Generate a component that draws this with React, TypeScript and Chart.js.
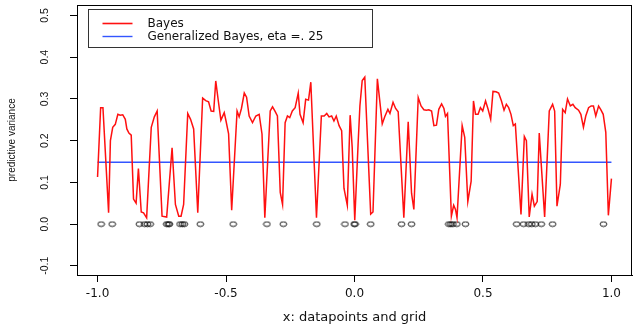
import React, { useEffect, useRef } from "react";
import { Chart, registerables } from "chart.js";

Chart.register(...registerables);

// Bayes predictive variance on the grid
const bayesX = [
  -1.0, -0.988, -0.979, -0.957, -0.950, -0.941, -0.931, -0.921, -0.912, -0.902,
  -0.892, -0.886, -0.878, -0.869, -0.860, -0.850, -0.841, -0.830, -0.821, -0.809,
  -0.791, -0.779, -0.768, -0.749, -0.731, -0.710, -0.697, -0.684, -0.675, -0.665,
  -0.649, -0.638, -0.626, -0.610, -0.591, -0.579, -0.568, -0.558, -0.548, -0.540,
  -0.530, -0.520, -0.507, -0.500, -0.490, -0.478, -0.457, -0.449, -0.440, -0.429,
  -0.420, -0.410, -0.397, -0.384, -0.371, -0.360, -0.349, -0.328, -0.319, -0.309,
  -0.300, -0.289, -0.280, -0.270, -0.261, -0.252, -0.242, -0.231, -0.219, -0.212,
  -0.200, -0.190, -0.179, -0.170, -0.148, -0.129, -0.118, -0.108, -0.099, -0.089,
  -0.080, -0.071, -0.060, -0.050, -0.041, -0.028, -0.017, -0.009, 0.001, 0.014,
  0.021, 0.030, 0.040, 0.063, 0.072, 0.089, 0.098, 0.108, 0.118, 0.130,
  0.138, 0.150, 0.160, 0.170, 0.192, 0.209, 0.222, 0.231, 0.248, 0.259,
  0.270, 0.280, 0.289, 0.300, 0.309, 0.319, 0.328, 0.339, 0.348, 0.354,
  0.362, 0.377, 0.386, 0.393, 0.399, 0.419, 0.429, 0.441, 0.454, 0.463,
  0.471, 0.481, 0.490, 0.499, 0.510, 0.520, 0.530, 0.539, 0.551, 0.561,
  0.572, 0.582, 0.591, 0.600, 0.609, 0.618, 0.626, 0.648, 0.661, 0.669,
  0.680, 0.691, 0.700, 0.711, 0.719, 0.740, 0.758, 0.771, 0.779, 0.788,
  0.801, 0.810, 0.820, 0.829, 0.840, 0.850, 0.859, 0.872, 0.881, 0.891,
  0.900, 0.911, 0.921, 0.930, 0.939, 0.950, 0.958, 0.968, 0.978, 0.988,
  1.0,
];
const bayesY = [
  0.113, 0.279, 0.279, 0.027, 0.200, 0.232, 0.239, 0.263, 0.261, 0.262,
  0.251, 0.228, 0.218, 0.213, 0.060, 0.050, 0.133, 0.029, 0.027, 0.015,
  0.232, 0.257, 0.271, 0.019, 0.017, 0.183, 0.047, 0.019, 0.019, 0.047,
  0.265, 0.251, 0.228, 0.027, 0.302, 0.296, 0.293, 0.271, 0.270, 0.343,
  0.295, 0.249, 0.267, 0.247, 0.216, 0.033, 0.271, 0.257, 0.277, 0.314,
  0.304, 0.259, 0.243, 0.259, 0.263, 0.216, 0.015, 0.271, 0.281, 0.270,
  0.259, 0.076, 0.047, 0.243, 0.259, 0.255, 0.271, 0.279, 0.314, 0.263,
  0.243, 0.299, 0.297, 0.340, 0.015, 0.259, 0.259, 0.265, 0.257, 0.259,
  0.247, 0.259, 0.236, 0.224, 0.086, 0.045, 0.261, 0.184, 0.009, 0.192,
  0.283, 0.344, 0.352, 0.024, 0.029, 0.348, 0.297, 0.240, 0.258, 0.275,
  0.265, 0.292, 0.277, 0.269, 0.015, 0.245, 0.074, 0.035, 0.303, 0.283,
  0.274, 0.273, 0.274, 0.271, 0.236, 0.237, 0.275, 0.288, 0.277, 0.258,
  0.265, 0.019, 0.045, 0.035, 0.015, 0.236, 0.208, 0.054, 0.103, 0.295,
  0.263, 0.263, 0.279, 0.271, 0.295, 0.275, 0.251, 0.318, 0.317, 0.314,
  0.295, 0.273, 0.287, 0.279, 0.263, 0.236, 0.240, 0.023, 0.210, 0.200,
  0.017, 0.072, 0.043, 0.054, 0.218, 0.017, 0.271, 0.287, 0.271, 0.043,
  0.095, 0.275, 0.267, 0.300, 0.283, 0.287, 0.279, 0.273, 0.263, 0.232,
  0.259, 0.279, 0.283, 0.283, 0.259, 0.283, 0.275, 0.263, 0.220, 0.021,
  0.109,
];

// Generalized Bayes (eta = .25) predictive variance
const genX = [-1.0, 1.0];
const genY = [0.148, 0.148];

// Observed datapoints (drawn at zero)
const dataX = [
  -0.986, -0.943, -0.837, -0.817, -0.806, -0.795, -0.731, -0.725, -0.720, -0.679,
  -0.670, -0.662, -0.600, -0.472, -0.341, -0.277, -0.147, -0.037, -0.001, 0.002,
  0.063, 0.183, 0.222, 0.367, 0.375, 0.383, 0.398, 0.432, 0.631, 0.658,
  0.678, 0.690, 0.704, 0.727, 0.771, 0.969,
];
const dataY = [
  0, 0, 0, 0, 0, 0, 0, 0, 0, 0,
  0, 0, 0, 0, 0, 0, 0, 0, 0, 0,
  0, 0, 0, 0, 0, 0, 0, 0, 0, 0,
  0, 0, 0, 0, 0, 0,
];

const xTicks = [-1.0, -0.5, 0.0, 0.5, 1.0];
const yTicks = [-0.1, 0.0, 0.1, 0.2, 0.3, 0.4, 0.5];

const seriesLabels = ["Bayes", "Generalized Bayes, eta =. 25"];
const xTitle = "x: datapoints and grid";
const yTitle = "predictive variance";

const HFONT = "'DejaVu Sans', 'Liberation Sans', Arial, sans-serif";
const VFONT = "'Liberation Sans', Arial, sans-serif";

function makeEllipse(): HTMLCanvasElement {
  const c = document.createElement("canvas");
  c.width = 9;
  c.height = 7;
  const g = c.getContext("2d")!;
  g.strokeStyle = "#000";
  g.lineWidth = 0.9;
  g.beginPath();
  g.ellipse(4.5, 3.5, 3.4, 2.3, 0, 0, Math.PI * 2);
  g.stroke();
  return c;
}

const boxPlugin = {
  id: "rbox",
  afterDraw(chart: any) {
    const { ctx, chartArea } = chart;
    ctx.save();
    ctx.strokeStyle = "#000";
    ctx.lineWidth = 1;
    ctx.strokeRect(
      Math.round(chartArea.left) + 0.5,
      Math.round(chartArea.top) + 0.5,
      Math.round(chartArea.right - chartArea.left) - 1,
      Math.round(chartArea.bottom - chartArea.top)
    );
    // legend
    const lx = Math.round(chartArea.left) + 11.5;
    const ly = Math.round(chartArea.top) + 4.5;
    const lw = 284;
    const lh = 38;
    ctx.strokeStyle = "#333";
    ctx.strokeRect(lx, ly, lw, lh);
    ctx.font = "12px " + HFONT;
    ctx.textBaseline = "middle";
    ctx.textAlign = "left";
    const rowsY = [ly + 14, ly + 27];
    [0, 1].forEach((i) => {
      const ds = chart.data.datasets[i];
      ctx.strokeStyle = ds.borderColor;
      ctx.lineWidth = i === 0 ? 1.6 : 1.4;
      ctx.beginPath();
      ctx.moveTo(lx + 14, rowsY[i]);
      ctx.lineTo(lx + 44, rowsY[i]);
      ctx.stroke();
      ctx.fillStyle = "#111";
      ctx.fillText(ds.label, lx + 59, rowsY[i] + 0.5);
    });
    ctx.restore();
  },
};

export default function App() {
  const ref = useRef<HTMLCanvasElement | null>(null);
  useEffect(() => {
    document.body.style.margin = "0";
    const canvas = ref.current!;
    const chart = new Chart(canvas, {
      type: "line",
      data: {
        datasets: [
          {
            label: seriesLabels[0],
            data: bayesX.map((x, i) => ({ x, y: bayesY[i] })),
            borderColor: "#ff1010",
            borderWidth: 1.5,
            pointRadius: 0,
            tension: 0,
          },
          {
            label: seriesLabels[1],
            data: genX.map((x, i) => ({ x, y: genY[i] })),
            borderColor: "#3355ff",
            borderWidth: 1.5,
            pointRadius: 0,
          },
          {
            label: "datapoints",
            data: dataX.map((x, i) => ({ x, y: dataY[i] })),
            showLine: false,
            pointStyle: makeEllipse() as any,
            pointRadius: 3,
            borderColor: "#000",
            backgroundColor: "rgba(0,0,0,0)",
          },
        ],
      },
      options: {
        responsive: false,
        animation: false,
        events: [],
        layout: { padding: { left: 0, right: 8, top: 2, bottom: 0 } },
        plugins: { legend: { display: false }, tooltip: { enabled: false } },
        scales: {
          x: {
            type: "linear",
            min: -1.08,
            max: 1.08,
            afterBuildTicks: (s: any) => {
              s.ticks = xTicks.map((v) => ({ value: v }));
            },
            afterFit: (s: any) => {
              s.height = 50;
              s.paddingLeft = 0;
              s.paddingRight = 0;
            },
            grid: {
              display: true,
              drawOnChartArea: false,
              drawTicks: true,
              tickLength: 7,
              color: "#000",
              tickColor: "#000",
            },
            border: { display: true, color: "#000" },
            ticks: {
              color: "#111",
              font: { family: HFONT, size: 12 },
              padding: 5,
              maxRotation: 0,
              minRotation: 0,
              callback: (v: any) => Number(v).toFixed(1),
            },
            title: {
              display: true,
              text: xTitle,
              color: "#111",
              font: { family: HFONT, size: 13 },
              padding: { top: 0, bottom: 0 },
            },
          },
          y: {
            type: "linear",
            min: -0.122,
            max: 0.525,
            afterBuildTicks: (s: any) => {
              s.ticks = yTicks.map((v) => ({ value: v }));
            },
            afterFit: (s: any) => {
              s.width = 77;
              s.paddingTop = 0;
              s.paddingBottom = 0;
            },
            grid: {
              display: true,
              drawOnChartArea: false,
              drawTicks: true,
              tickLength: 7,
              color: "#000",
              tickColor: "#000",
            },
            border: { display: true, color: "#000" },
            ticks: {
              color: "#111",
              font: { family: VFONT, size: 10.5 },
              minRotation: 90,
              maxRotation: 90,
              crossAlign: "center",
              padding: 16,
              callback: (v: any) => Number(v).toFixed(1),
            },
            title: {
              display: true,
              text: yTitle,
              color: "#111",
              font: { family: VFONT, size: 10 },
              padding: { top: 6, bottom: 0 },
            },
          },
        },
      },
      plugins: [boxPlugin],
    });
    return () => chart.destroy();
  }, []);
  return (
    <div style={{ position: "absolute", left: 0, top: 0, width: 640, height: 325, background: "#fff" }}>
      <canvas ref={ref} width={640} height={325} />
    </div>
  );
}
